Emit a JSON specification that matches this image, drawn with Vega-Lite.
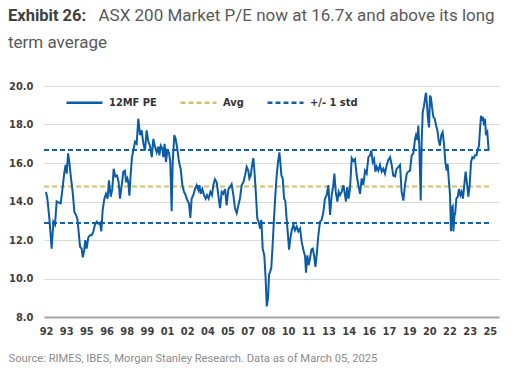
{
"$schema":"https://vega.github.io/schema/vega-lite/v6.json",
"width":455,"height":231,
"autosize":{"type":"none"},
"padding":{"left":44,"top":86,"right":29,"bottom":54},
"background":"white",
"title":{"text":"Exhibit 26:","subtitle":"term average","anchor":"start","frame":"group","dx":-36,"dy":75,"font":"Roboto","fontSize":16.5,"fontWeight":"bold","color":"#404040","subtitleFont":"Roboto","subtitleFontSize":17,"subtitleColor":"#595959","subtitlePadding":11,"offset":30},
"config":{"view":{"stroke":null},"legend":{"labelFont":"DejaVu Sans Condensed, Roboto","labelFontSize":11,"labelColor":"#333333","labelFontWeight":"bold","symbolType":"stroke","symbolSize":1296,"symbolStrokeWidth":2.5,"labelOffset":5,"columnPadding":18}},
"data":{"values":[
{"s":"Avg","p":"a","d":1991.85,"v":14.78},{"s":"Avg","p":"a","d":2024.94,"v":14.78},
{"s":"+/- 1 std","p":"u","d":1991.85,"v":16.68},{"s":"+/- 1 std","p":"u","d":2024.94,"v":16.68},
{"s":"+/- 1 std","p":"l","d":1991.85,"v":12.88},{"s":"+/- 1 std","p":"l","d":2024.94,"v":12.88},
{"s":"12MF PE","p":"m","d":1992.00,"v":14.5},{"s":"12MF PE","p":"m","d":1992.10,"v":14.15},{"s":"12MF PE","p":"m","d":1992.25,"v":13.1},{"s":"12MF PE","p":"m","d":1992.42,"v":11.55},{"s":"12MF PE","p":"m","d":1992.55,"v":12.95},{"s":"12MF PE","p":"m","d":1992.67,"v":12.8},{"s":"12MF PE","p":"m","d":1992.79,"v":14.0},{"s":"12MF PE","p":"m","d":1992.92,"v":13.95},
{"s":"12MF PE","p":"m","d":1993.09,"v":13.9},{"s":"12MF PE","p":"m","d":1993.24,"v":14.75},{"s":"12MF PE","p":"m","d":1993.36,"v":15.5},{"s":"12MF PE","p":"m","d":1993.46,"v":15.9},{"s":"12MF PE","p":"m","d":1993.54,"v":15.45},{"s":"12MF PE","p":"m","d":1993.64,"v":16.5},{"s":"12MF PE","p":"m","d":1993.73,"v":16.05},{"s":"12MF PE","p":"m","d":1993.86,"v":15.2},{"s":"12MF PE","p":"m","d":1993.98,"v":14.5},
{"s":"12MF PE","p":"m","d":1994.11,"v":13.45},{"s":"12MF PE","p":"m","d":1994.23,"v":13.3},{"s":"12MF PE","p":"m","d":1994.33,"v":13.1},{"s":"12MF PE","p":"m","d":1994.40,"v":12.6},{"s":"12MF PE","p":"m","d":1994.53,"v":11.65},{"s":"12MF PE","p":"m","d":1994.65,"v":11.55},{"s":"12MF PE","p":"m","d":1994.73,"v":11.1},{"s":"12MF PE","p":"m","d":1994.83,"v":11.4},{"s":"12MF PE","p":"m","d":1994.92,"v":12.0},
{"s":"12MF PE","p":"m","d":1995.02,"v":11.55},{"s":"12MF PE","p":"m","d":1995.15,"v":12.15},{"s":"12MF PE","p":"m","d":1995.27,"v":12.25},{"s":"12MF PE","p":"m","d":1995.40,"v":12.25},{"s":"12MF PE","p":"m","d":1995.52,"v":12.45},{"s":"12MF PE","p":"m","d":1995.64,"v":12.8},{"s":"12MF PE","p":"m","d":1995.77,"v":12.95},{"s":"12MF PE","p":"m","d":1995.89,"v":12.85},
{"s":"12MF PE","p":"m","d":1996.01,"v":12.9},{"s":"12MF PE","p":"m","d":1996.11,"v":12.45},{"s":"12MF PE","p":"m","d":1996.21,"v":13.55},{"s":"12MF PE","p":"m","d":1996.34,"v":14.15},{"s":"12MF PE","p":"m","d":1996.46,"v":14.4},{"s":"12MF PE","p":"m","d":1996.58,"v":14.15},{"s":"12MF PE","p":"m","d":1996.68,"v":15.1},{"s":"12MF PE","p":"m","d":1996.81,"v":14.25},{"s":"12MF PE","p":"m","d":1996.93,"v":14.65},
{"s":"12MF PE","p":"m","d":1997.03,"v":15.7},{"s":"12MF PE","p":"m","d":1997.15,"v":15.3},{"s":"12MF PE","p":"m","d":1997.28,"v":15.35},{"s":"12MF PE","p":"m","d":1997.40,"v":15.0},{"s":"12MF PE","p":"m","d":1997.50,"v":14.15},{"s":"12MF PE","p":"m","d":1997.63,"v":14.85},{"s":"12MF PE","p":"m","d":1997.75,"v":15.55},{"s":"12MF PE","p":"m","d":1997.87,"v":15.6},{"s":"12MF PE","p":"m","d":1997.95,"v":15.0},
{"s":"12MF PE","p":"m","d":1998.05,"v":15.2},{"s":"12MF PE","p":"m","d":1998.12,"v":15.0},{"s":"12MF PE","p":"m","d":1998.20,"v":14.3},{"s":"12MF PE","p":"m","d":1998.29,"v":15.35},{"s":"12MF PE","p":"m","d":1998.39,"v":16.3},{"s":"12MF PE","p":"m","d":1998.49,"v":16.65},{"s":"12MF PE","p":"m","d":1998.62,"v":17.1},{"s":"12MF PE","p":"m","d":1998.74,"v":17.0},{"s":"12MF PE","p":"m","d":1998.86,"v":18.3},{"s":"12MF PE","p":"m","d":1998.99,"v":17.45},
{"s":"12MF PE","p":"m","d":1999.11,"v":17.7},{"s":"12MF PE","p":"m","d":1999.24,"v":17.0},{"s":"12MF PE","p":"m","d":1999.36,"v":16.65},{"s":"12MF PE","p":"m","d":1999.48,"v":17.7},{"s":"12MF PE","p":"m","d":1999.61,"v":17.1},{"s":"12MF PE","p":"m","d":1999.73,"v":16.9},{"s":"12MF PE","p":"m","d":1999.86,"v":16.3},{"s":"12MF PE","p":"m","d":1999.98,"v":17.25},
{"s":"12MF PE","p":"m","d":2000.10,"v":16.85},{"s":"12MF PE","p":"m","d":2000.23,"v":16.55},{"s":"12MF PE","p":"m","d":2000.35,"v":16.85},{"s":"12MF PE","p":"m","d":2000.43,"v":16.4},{"s":"12MF PE","p":"m","d":2000.53,"v":16.9},{"s":"12MF PE","p":"m","d":2000.65,"v":16.75},{"s":"12MF PE","p":"m","d":2000.72,"v":16.3},{"s":"12MF PE","p":"m","d":2000.82,"v":17.0},{"s":"12MF PE","p":"m","d":2000.92,"v":16.05},
{"s":"12MF PE","p":"m","d":2001.02,"v":16.65},{"s":"12MF PE","p":"m","d":2001.14,"v":16.55},{"s":"12MF PE","p":"m","d":2001.24,"v":16.05},{"s":"12MF PE","p":"m","d":2001.34,"v":13.5},{"s":"12MF PE","p":"m","d":2001.42,"v":16.05},{"s":"12MF PE","p":"m","d":2001.54,"v":17.45},{"s":"12MF PE","p":"m","d":2001.64,"v":17.25},{"s":"12MF PE","p":"m","d":2001.76,"v":16.75},{"s":"12MF PE","p":"m","d":2001.89,"v":16.05},
{"s":"12MF PE","p":"m","d":2002.01,"v":15.7},{"s":"12MF PE","p":"m","d":2002.14,"v":14.85},{"s":"12MF PE","p":"m","d":2002.26,"v":14.5},{"s":"12MF PE","p":"m","d":2002.38,"v":14.33},{"s":"12MF PE","p":"m","d":2002.51,"v":14.05},{"s":"12MF PE","p":"m","d":2002.63,"v":13.9},{"s":"12MF PE","p":"m","d":2002.73,"v":13.15},{"s":"12MF PE","p":"m","d":2002.83,"v":14.15},{"s":"12MF PE","p":"m","d":2002.95,"v":14.33},
{"s":"12MF PE","p":"m","d":2003.08,"v":14.65},{"s":"12MF PE","p":"m","d":2003.20,"v":14.85},{"s":"12MF PE","p":"m","d":2003.33,"v":14.6},{"s":"12MF PE","p":"m","d":2003.40,"v":14.85},{"s":"12MF PE","p":"m","d":2003.50,"v":14.4},{"s":"12MF PE","p":"m","d":2003.62,"v":14.65},{"s":"12MF PE","p":"m","d":2003.75,"v":14.33},{"s":"12MF PE","p":"m","d":2003.87,"v":14.15},{"s":"12MF PE","p":"m","d":2003.97,"v":14.33},
{"s":"12MF PE","p":"m","d":2004.09,"v":14.15},{"s":"12MF PE","p":"m","d":2004.22,"v":14.5},{"s":"12MF PE","p":"m","d":2004.34,"v":14.33},{"s":"12MF PE","p":"m","d":2004.44,"v":14.85},{"s":"12MF PE","p":"m","d":2004.56,"v":15.15},{"s":"12MF PE","p":"m","d":2004.69,"v":15.0},{"s":"12MF PE","p":"m","d":2004.81,"v":14.33},{"s":"12MF PE","p":"m","d":2004.94,"v":13.65},
{"s":"12MF PE","p":"m","d":2005.06,"v":14.5},{"s":"12MF PE","p":"m","d":2005.18,"v":14.4},{"s":"12MF PE","p":"m","d":2005.31,"v":14.65},{"s":"12MF PE","p":"m","d":2005.43,"v":13.8},{"s":"12MF PE","p":"m","d":2005.56,"v":14.65},{"s":"12MF PE","p":"m","d":2005.68,"v":14.75},{"s":"12MF PE","p":"m","d":2005.80,"v":14.9},{"s":"12MF PE","p":"m","d":2005.93,"v":14.33},
{"s":"12MF PE","p":"m","d":2006.05,"v":13.65},{"s":"12MF PE","p":"m","d":2006.18,"v":13.4},{"s":"12MF PE","p":"m","d":2006.30,"v":13.8},{"s":"12MF PE","p":"m","d":2006.42,"v":14.15},{"s":"12MF PE","p":"m","d":2006.55,"v":14.85},{"s":"12MF PE","p":"m","d":2006.67,"v":15.0},{"s":"12MF PE","p":"m","d":2006.80,"v":15.35},{"s":"12MF PE","p":"m","d":2006.92,"v":15.8},
{"s":"12MF PE","p":"m","d":2007.04,"v":15.6},{"s":"12MF PE","p":"m","d":2007.12,"v":15.2},{"s":"12MF PE","p":"m","d":2007.22,"v":15.35},{"s":"12MF PE","p":"m","d":2007.32,"v":15.9},{"s":"12MF PE","p":"m","d":2007.42,"v":16.25},{"s":"12MF PE","p":"m","d":2007.51,"v":15.45},{"s":"12MF PE","p":"m","d":2007.61,"v":14.33},{"s":"12MF PE","p":"m","d":2007.71,"v":13.1},{"s":"12MF PE","p":"m","d":2007.81,"v":12.95},{"s":"12MF PE","p":"m","d":2007.91,"v":12.6},
{"s":"12MF PE","p":"m","d":2008.01,"v":13.05},{"s":"12MF PE","p":"m","d":2008.11,"v":11.55},{"s":"12MF PE","p":"m","d":2008.23,"v":11.2},{"s":"12MF PE","p":"m","d":2008.33,"v":10.0},{"s":"12MF PE","p":"m","d":2008.41,"v":8.55},{"s":"12MF PE","p":"m","d":2008.51,"v":8.98},{"s":"12MF PE","p":"m","d":2008.58,"v":10.2},{"s":"12MF PE","p":"m","d":2008.66,"v":10.35},{"s":"12MF PE","p":"m","d":2008.75,"v":10.55},{"s":"12MF PE","p":"m","d":2008.85,"v":11.75},{"s":"12MF PE","p":"m","d":2008.95,"v":13.1},
{"s":"12MF PE","p":"m","d":2009.05,"v":14.33},{"s":"12MF PE","p":"m","d":2009.15,"v":15.35},{"s":"12MF PE","p":"m","d":2009.25,"v":16.05},{"s":"12MF PE","p":"m","d":2009.35,"v":16.55},{"s":"12MF PE","p":"m","d":2009.42,"v":16.05},{"s":"12MF PE","p":"m","d":2009.50,"v":15.35},{"s":"12MF PE","p":"m","d":2009.60,"v":15.2},{"s":"12MF PE","p":"m","d":2009.70,"v":14.15},{"s":"12MF PE","p":"m","d":2009.79,"v":14.05},{"s":"12MF PE","p":"m","d":2009.89,"v":13.1},{"s":"12MF PE","p":"m","d":2009.99,"v":12.25},
{"s":"12MF PE","p":"m","d":2010.07,"v":11.5},{"s":"12MF PE","p":"m","d":2010.17,"v":12.1},{"s":"12MF PE","p":"m","d":2010.27,"v":12.5},{"s":"12MF PE","p":"m","d":2010.39,"v":12.8},{"s":"12MF PE","p":"m","d":2010.51,"v":12.5},{"s":"12MF PE","p":"m","d":2010.64,"v":12.7},{"s":"12MF PE","p":"m","d":2010.76,"v":12.45},{"s":"12MF PE","p":"m","d":2010.89,"v":12.6},
{"s":"12MF PE","p":"m","d":2011.01,"v":11.9},{"s":"12MF PE","p":"m","d":2011.13,"v":11.5},{"s":"12MF PE","p":"m","d":2011.26,"v":11.15},{"s":"12MF PE","p":"m","d":2011.33,"v":10.3},{"s":"12MF PE","p":"m","d":2011.43,"v":11.2},{"s":"12MF PE","p":"m","d":2011.53,"v":10.7},{"s":"12MF PE","p":"m","d":2011.63,"v":11.05},{"s":"12MF PE","p":"m","d":2011.73,"v":11.5},{"s":"12MF PE","p":"m","d":2011.83,"v":11.55},{"s":"12MF PE","p":"m","d":2011.93,"v":11.2},
{"s":"12MF PE","p":"m","d":2012.03,"v":10.6},{"s":"12MF PE","p":"m","d":2012.12,"v":11.2},{"s":"12MF PE","p":"m","d":2012.25,"v":12.25},{"s":"12MF PE","p":"m","d":2012.37,"v":12.95},{"s":"12MF PE","p":"m","d":2012.50,"v":13.05},{"s":"12MF PE","p":"m","d":2012.62,"v":13.45},{"s":"12MF PE","p":"m","d":2012.74,"v":14.15},{"s":"12MF PE","p":"m","d":2012.87,"v":14.33},{"s":"12MF PE","p":"m","d":2012.99,"v":14.85},
{"s":"12MF PE","p":"m","d":2013.12,"v":13.3},{"s":"12MF PE","p":"m","d":2013.24,"v":14.33},{"s":"12MF PE","p":"m","d":2013.36,"v":14.85},{"s":"12MF PE","p":"m","d":2013.44,"v":15.45},{"s":"12MF PE","p":"m","d":2013.54,"v":14.5},{"s":"12MF PE","p":"m","d":2013.66,"v":14.0},{"s":"12MF PE","p":"m","d":2013.76,"v":14.5},{"s":"12MF PE","p":"m","d":2013.86,"v":14.33},{"s":"12MF PE","p":"m","d":2013.98,"v":14.5},
{"s":"12MF PE","p":"m","d":2014.11,"v":14.85},{"s":"12MF PE","p":"m","d":2014.23,"v":14.33},{"s":"12MF PE","p":"m","d":2014.30,"v":14.0},{"s":"12MF PE","p":"m","d":2014.40,"v":14.75},{"s":"12MF PE","p":"m","d":2014.50,"v":14.15},{"s":"12MF PE","p":"m","d":2014.60,"v":14.65},{"s":"12MF PE","p":"m","d":2014.73,"v":16.25},{"s":"12MF PE","p":"m","d":2014.85,"v":16.1},{"s":"12MF PE","p":"m","d":2014.97,"v":16.2},
{"s":"12MF PE","p":"m","d":2015.10,"v":15.35},{"s":"12MF PE","p":"m","d":2015.22,"v":14.85},{"s":"12MF PE","p":"m","d":2015.35,"v":14.4},{"s":"12MF PE","p":"m","d":2015.47,"v":15.2},{"s":"12MF PE","p":"m","d":2015.59,"v":14.85},{"s":"12MF PE","p":"m","d":2015.72,"v":15.6},{"s":"12MF PE","p":"m","d":2015.84,"v":15.45},{"s":"12MF PE","p":"m","d":2015.97,"v":16.3},
{"s":"12MF PE","p":"m","d":2016.09,"v":16.4},{"s":"12MF PE","p":"m","d":2016.19,"v":16.65},{"s":"12MF PE","p":"m","d":2016.29,"v":16.05},{"s":"12MF PE","p":"m","d":2016.39,"v":16.2},{"s":"12MF PE","p":"m","d":2016.49,"v":15.55},{"s":"12MF PE","p":"m","d":2016.58,"v":15.8},{"s":"12MF PE","p":"m","d":2016.71,"v":15.6},{"s":"12MF PE","p":"m","d":2016.83,"v":15.9},{"s":"12MF PE","p":"m","d":2016.96,"v":15.55},
{"s":"12MF PE","p":"m","d":2017.08,"v":15.7},{"s":"12MF PE","p":"m","d":2017.20,"v":15.45},{"s":"12MF PE","p":"m","d":2017.33,"v":15.9},{"s":"12MF PE","p":"m","d":2017.45,"v":16.15},{"s":"12MF PE","p":"m","d":2017.58,"v":16.3},{"s":"12MF PE","p":"m","d":2017.70,"v":15.9},{"s":"12MF PE","p":"m","d":2017.82,"v":15.35},{"s":"12MF PE","p":"m","d":2017.95,"v":15.3},
{"s":"12MF PE","p":"m","d":2018.07,"v":15.7},{"s":"12MF PE","p":"m","d":2018.20,"v":15.8},{"s":"12MF PE","p":"m","d":2018.32,"v":15.9},{"s":"12MF PE","p":"m","d":2018.44,"v":14.5},{"s":"12MF PE","p":"m","d":2018.57,"v":14.05},{"s":"12MF PE","p":"m","d":2018.69,"v":14.85},{"s":"12MF PE","p":"m","d":2018.82,"v":15.45},{"s":"12MF PE","p":"m","d":2018.94,"v":15.55},
{"s":"12MF PE","p":"m","d":2019.06,"v":15.6},{"s":"12MF PE","p":"m","d":2019.19,"v":16.4},{"s":"12MF PE","p":"m","d":2019.31,"v":16.5},{"s":"12MF PE","p":"m","d":2019.44,"v":17.25},{"s":"12MF PE","p":"m","d":2019.51,"v":17.45},{"s":"12MF PE","p":"m","d":2019.61,"v":17.2},{"s":"12MF PE","p":"m","d":2019.68,"v":17.95},{"s":"12MF PE","p":"m","d":2019.76,"v":16.75},{"s":"12MF PE","p":"m","d":2019.86,"v":14.05},{"s":"12MF PE","p":"m","d":2019.93,"v":17.1},
{"s":"12MF PE","p":"m","d":2020.01,"v":18.65},{"s":"12MF PE","p":"m","d":2020.10,"v":18.95},{"s":"12MF PE","p":"m","d":2020.18,"v":19.35},{"s":"12MF PE","p":"m","d":2020.25,"v":19.65},{"s":"12MF PE","p":"m","d":2020.33,"v":19.0},{"s":"12MF PE","p":"m","d":2020.40,"v":18.3},{"s":"12MF PE","p":"m","d":2020.48,"v":17.85},{"s":"12MF PE","p":"m","d":2020.55,"v":19.5},{"s":"12MF PE","p":"m","d":2020.62,"v":19.4},{"s":"12MF PE","p":"m","d":2020.70,"v":18.9},{"s":"12MF PE","p":"m","d":2020.80,"v":18.4},{"s":"12MF PE","p":"m","d":2020.90,"v":18.3},
{"s":"12MF PE","p":"m","d":2021.00,"v":17.95},{"s":"12MF PE","p":"m","d":2021.10,"v":17.7},{"s":"12MF PE","p":"m","d":2021.19,"v":17.2},{"s":"12MF PE","p":"m","d":2021.29,"v":16.9},{"s":"12MF PE","p":"m","d":2021.39,"v":17.45},{"s":"12MF PE","p":"m","d":2021.49,"v":17.6},{"s":"12MF PE","p":"m","d":2021.59,"v":17.0},{"s":"12MF PE","p":"m","d":2021.69,"v":16.05},{"s":"12MF PE","p":"m","d":2021.79,"v":15.6},{"s":"12MF PE","p":"m","d":2021.86,"v":15.95},{"s":"12MF PE","p":"m","d":2021.94,"v":15.2},
{"s":"12MF PE","p":"m","d":2022.04,"v":14.33},{"s":"12MF PE","p":"m","d":2022.11,"v":12.45},{"s":"12MF PE","p":"m","d":2022.16,"v":13.65},{"s":"12MF PE","p":"m","d":2022.24,"v":13.75},{"s":"12MF PE","p":"m","d":2022.29,"v":12.45},{"s":"12MF PE","p":"m","d":2022.36,"v":13.2},{"s":"12MF PE","p":"m","d":2022.43,"v":13.45},{"s":"12MF PE","p":"m","d":2022.51,"v":14.15},{"s":"12MF PE","p":"m","d":2022.61,"v":14.25},{"s":"12MF PE","p":"m","d":2022.71,"v":14.65},{"s":"12MF PE","p":"m","d":2022.81,"v":14.33},{"s":"12MF PE","p":"m","d":2022.90,"v":14.5},
{"s":"12MF PE","p":"m","d":2023.00,"v":14.15},{"s":"12MF PE","p":"m","d":2023.10,"v":14.85},{"s":"12MF PE","p":"m","d":2023.20,"v":15.55},{"s":"12MF PE","p":"m","d":2023.30,"v":14.95},{"s":"12MF PE","p":"m","d":2023.40,"v":14.25},{"s":"12MF PE","p":"m","d":2023.50,"v":14.85},{"s":"12MF PE","p":"m","d":2023.60,"v":16.05},{"s":"12MF PE","p":"m","d":2023.70,"v":16.3},{"s":"12MF PE","p":"m","d":2023.80,"v":16.25},{"s":"12MF PE","p":"m","d":2023.90,"v":16.4},
{"s":"12MF PE","p":"m","d":2024.00,"v":16.4},{"s":"12MF PE","p":"m","d":2024.09,"v":16.65},{"s":"12MF PE","p":"m","d":2024.19,"v":16.9},{"s":"12MF PE","p":"m","d":2024.27,"v":17.75},{"s":"12MF PE","p":"m","d":2024.34,"v":18.45},{"s":"12MF PE","p":"m","d":2024.42,"v":18.2},{"s":"12MF PE","p":"m","d":2024.49,"v":18.4},{"s":"12MF PE","p":"m","d":2024.57,"v":17.95},{"s":"12MF PE","p":"m","d":2024.64,"v":18.3},{"s":"12MF PE","p":"m","d":2024.71,"v":17.45},{"s":"12MF PE","p":"m","d":2024.81,"v":17.6},{"s":"12MF PE","p":"m","d":2024.91,"v":16.65}
]},
"mark":{"type":"line","strokeWidth":2},
"encoding":{
"x":{"field":"d","type":"quantitative","scale":{"domain":[1991.85,2025.68],"nice":false,"zero":false},
"axis":{"values":[1992,1993.5,1995,1996.5,1998,1999.5,2001,2002.5,2004,2005.5,2007,2008.5,2010,2011.5,2013,2014.5,2016,2017.5,2019,2020.5,2022,2023.5,2025],"labelExpr":"slice(toString(floor(datum.value)), 2)","grid":false,"ticks":false,"tickSize":0,"domain":true,"domainColor":"#a6a6a6","domainWidth":2,"labelFont":"DejaVu Sans Condensed, Roboto","labelFontSize":11,"labelFontWeight":"bold","labelColor":"#404040","labelPadding":8,"labelFlush":false,"labelOverlap":false,
"title":"Source: RIMES, IBES, Morgan Stanley Research. Data as of March 05, 2025","titleX":-36,"titleY":44,"titleAlign":"left","titleAnchor":null,"titleBaseline":"alphabetic","titleFont":"Roboto","titleFontSize":11.2,"titleFontWeight":"normal","titleColor":"#8c8c8c"}},
"y":{"field":"v","type":"quantitative","scale":{"domain":[8,20],"nice":false,"zero":false},
"axis":{"values":[8,10,12,14,16,18,20],"format":".1f","grid":true,"gridColor":"#d9d9d9","gridWidth":1,"domain":false,"ticks":false,"tickSize":0,"labelFont":"DejaVu Sans Condensed, Roboto","labelFontSize":11,"labelFontWeight":"bold","labelColor":"#404040","labelPadding":11,
"title":"ASX 200 Market P/E now at 16.7x and above its long","titleAngle":0,"titleX":54,"titleY":-66,"titleAlign":"left","titleAnchor":null,"titleBaseline":"alphabetic","titleFont":"Roboto","titleFontSize":17,"titleFontWeight":"normal","titleColor":"#595959"}},
"color":{"field":"s","type":"nominal","scale":{"domain":["12MF PE","Avg","+/- 1 std"],"range":["#0B5CA8","#D8BD6E","#1560AE"]},"legend":{"title":null,"orient":"none","legendX":21,"legendY":-3,"direction":"horizontal"}},
"strokeDash":{"field":"s","type":"nominal","scale":{"domain":["12MF PE","Avg","+/- 1 std"],"range":[[1,0],[5,3],[5,3]]},"legend":{"title":null,"orient":"none","legendX":21,"legendY":-3,"direction":"horizontal"}},
"detail":{"field":"p","type":"nominal"}
}
}
